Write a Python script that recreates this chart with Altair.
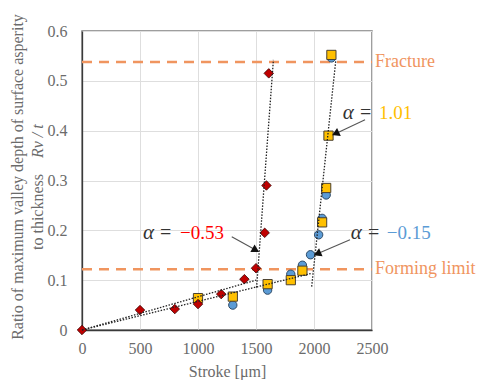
import math
import altair as alt
import pandas as pd

# ---------------- data ----------------
red_x = [0, 500, 800, 1000, 1200, 1400, 1500, 1575, 1590, 1610]
red_y = [0.000, 0.040, 0.042, 0.052, 0.072, 0.102, 0.124, 0.195, 0.290, 0.515]

blue_x = [1300, 1600, 1800, 1900, 1970, 2040, 2070, 2105, 2150]
blue_y = [0.050, 0.080, 0.112, 0.130, 0.151, 0.191, 0.224, 0.271, 0.546]

yellow_x = [1000, 1300, 1600, 1800, 1900, 2070, 2105, 2125, 2150]
yellow_y = [0.064, 0.067, 0.092, 0.100, 0.119, 0.216, 0.285, 0.390, 0.552]

# dotted trend lines (two end points each)
trend_names = ["red_low", "red_low", "red_steep", "red_steep",
               "blue_low", "blue_low", "blue_steep", "blue_steep"]
trend_x = [0, 1500, 1505, 1650, 0, 1985, 1980, 2187]
trend_y = [0.000, 0.100, 0.085, 0.542, 0.000, 0.114, 0.087, 0.539]

# limits
limit_names = ["Fracture", "Forming limit"]
limit_y = [0.538, 0.122]

# annotations
ann_values = ["\u22120.53", "1.01", "\u22120.15"]
ann_colors = ["#FF0000", "#FFC000", "#5B9BD5"]
ann_alpha_x = [526, 2247, 2316]
ann_eq_x = [672, 2397, 2466]
ann_val_x = [845, 2560, 2627]
ann_y = [0.195, 0.436, 0.195]
arrow_from_x = [1291, 2440, 2310]
arrow_from_y = [0.187, 0.422, 0.181]
arrow_to_x = [1517, 2166, 2009]
arrow_to_y = [0.158, 0.392, 0.151]

x_ticks = [0, 500, 1000, 1500, 2000, 2500]
y_ticks = [0, 0.1, 0.2, 0.3, 0.4, 0.5, 0.6]

# ---------------- layout ----------------
W, H = 290, 299
XMAX, YMAX = 2500, 0.6
FONT = "Liberation Serif"
GRAY = "#6b6b6b"
ORANGE = "#F0955F"

xs = alt.Scale(domain=[0, XMAX], nice=False, zero=True)
ys = alt.Scale(domain=[0, YMAX], nice=False, zero=True)

X = alt.X("x:Q", scale=xs, axis=alt.Axis(
    values=x_ticks, format="d", title="Stroke [\u03bcm]", grid=True, ticks=False,
    labelPadding=10, titlePadding=7, labelFlush=False, labelOverlap=False,
    labelFont=FONT, labelFontSize=16, labelColor=GRAY,
    titleFont=FONT, titleFontSize=16, titleColor=GRAY, titleFontWeight="normal",
    gridColor="#dedede", domainColor="#3a3a3a", domainWidth=1.3))
Y = alt.Y("y:Q", scale=ys, axis=alt.Axis(
    values=y_ticks, title=None, grid=True, ticks=False, labelPadding=15,
    labelFlush=False, labelOverlap=False,
    labelFont=FONT, labelFontSize=16, labelColor=GRAY,
    gridColor="#dedede", domainColor="#3a3a3a", domainWidth=1.3,
    labelExpr="datum.value == 0 ? '0' : format(datum.value, '.1f')"))

red_df = pd.DataFrame({"x": red_x, "y": red_y})
blue_df = pd.DataFrame({"x": blue_x, "y": blue_y})
yel_df = pd.DataFrame({"x": yellow_x, "y": yellow_y})
trend_df = pd.DataFrame({"name": trend_names, "x": trend_x, "y": trend_y})
lim_df = pd.DataFrame({"name": limit_names, "y": limit_y})

base_axes = alt.Chart(red_df).mark_point(opacity=0).encode(x=X, y=Y)

limits = alt.Chart(lim_df).mark_rule(
    color=ORANGE, strokeWidth=2.5, strokeDash=[10, 7]
).encode(y=alt.Y("y:Q", scale=ys), x=alt.value(0), x2=alt.value(W))

limit_text = alt.Chart(lim_df).mark_text(
    align="left", baseline="middle", font=FONT, fontSize=18, color=ORANGE, dx=3
).encode(y=alt.Y("y:Q", scale=ys), x=alt.value(W), text="name:N")

blue_pts = alt.Chart(blue_df).mark_point(
    shape="circle", filled=True, fill="#5B9BD5", stroke="#2e4a66",
    strokeWidth=1, size=70, opacity=1
).encode(x=alt.X("x:Q", scale=xs), y=alt.Y("y:Q", scale=ys))

yel_pts = alt.Chart(yel_df).mark_point(
    shape="square", filled=True, fill="#FFC000", stroke="#4a4030",
    strokeWidth=1, size=85, opacity=1
).encode(x=alt.X("x:Q", scale=xs), y=alt.Y("y:Q", scale=ys))

red_pts = alt.Chart(red_df).mark_point(
    shape="diamond", filled=True, fill="#C00000", stroke="#3a0000",
    strokeWidth=0.8, size=90, opacity=1
).encode(x=alt.X("x:Q", scale=xs), y=alt.Y("y:Q", scale=ys))

trends = alt.Chart(trend_df).mark_line(
    color="#222222", strokeWidth=1.3, strokeDash=[1.5, 1.5]
).encode(x=alt.X("x:Q", scale=xs), y=alt.Y("y:Q", scale=ys), detail="name:N")

# arrows
px_per_x = W / XMAX
px_per_y = H / YMAX
ang, tipx, tipy = [], [], []
for fx, fy, tx, ty in zip(arrow_from_x, arrow_from_y, arrow_to_x, arrow_to_y):
    dx = (tx - fx) * px_per_x
    dy = -(ty - fy) * px_per_y
    a = math.degrees(math.atan2(dx, -dy)) % 360
    ang.append(a)
    L = math.hypot(dx, dy)
    back = 3.0
    tipx.append(tx - (dx / L) * back / px_per_x)
    tipy.append(ty + (dy / L) * back / px_per_y)

arr_df = pd.DataFrame({"x": arrow_from_x, "y": arrow_from_y,
                       "x2": arrow_to_x, "y2": arrow_to_y})
arrow_lines = alt.Chart(arr_df).mark_rule(color="#555555", strokeWidth=1.1).encode(
    x=alt.X("x:Q", scale=xs), y=alt.Y("y:Q", scale=ys), x2="x2:Q", y2="y2:Q")

heads = []
for i in range(3):
    hdf = pd.DataFrame({"x": [tipx[i]], "y": [tipy[i]]})
    heads.append(alt.Chart(hdf).mark_point(
        shape="triangle-up", filled=True, fill="#111111", stroke="#111111",
        size=28, opacity=1, angle=ang[i]
    ).encode(x=alt.X("x:Q", scale=xs), y=alt.Y("y:Q", scale=ys)))

ann_df = pd.DataFrame({"val": ann_values, "color": ann_colors,
                       "ax": ann_alpha_x, "ex": ann_eq_x, "vx": ann_val_x, "y": ann_y})
alpha_txt = alt.Chart(ann_df).mark_text(
    align="left", baseline="middle", font=FONT, fontSize=21, fontStyle="italic",
    color="#333333"
).encode(x=alt.X("ax:Q", scale=xs), y=alt.Y("y:Q", scale=ys), text=alt.value("\u03b1"))
eq_txt = alt.Chart(ann_df).mark_text(
    align="left", baseline="middle", font=FONT, fontSize=20, color="#333333"
).encode(x=alt.X("ex:Q", scale=xs), y=alt.Y("y:Q", scale=ys), text=alt.value("="))
val_txt = alt.Chart(ann_df).mark_text(
    align="left", baseline="middle", font=FONT, fontSize=19
).encode(x=alt.X("vx:Q", scale=xs), y=alt.Y("y:Q", scale=ys), text="val:N",
         color=alt.Color("color:N", scale=None))

# y-axis title (two lines, rotated)
one = pd.DataFrame({"k": [0]})
yt1 = alt.Chart(one).mark_text(
    angle=270, align="center", baseline="middle", font=FONT, fontSize=16, color=GRAY
).encode(x=alt.value(-64), y=alt.value(146),
         text=alt.value("Ratio of maximum valley depth of surface asperity"))
yt2 = alt.Chart(one).mark_text(
    angle=270, align="left", baseline="middle", font=FONT, fontSize=16, color=GRAY
).encode(x=alt.value(-44), y=alt.value(219), text=alt.value("to thickness"))
yt3 = alt.Chart(one).mark_text(
    angle=270, align="left", baseline="middle", font=FONT, fontSize=16, color=GRAY,
    fontStyle="italic"
).encode(x=alt.value(-44), y=alt.value(127), text=alt.value("Rv / t"))

chart = alt.layer(
    base_axes, limits, limit_text, blue_pts, yel_pts, red_pts, trends,
    arrow_lines, *heads, alpha_txt, eq_txt, val_txt, yt1, yt2, yt3
).properties(
    width=W, height=H,
    autosize=alt.AutoSizeParams(type="none"),
    padding={"left": 82, "top": 31, "right": 106, "bottom": 50},
).configure_view(
    stroke="#7f7f7f", strokeWidth=1.5
)

chart.save("out.html", embed_options={"renderer": "svg", "actions": False})
